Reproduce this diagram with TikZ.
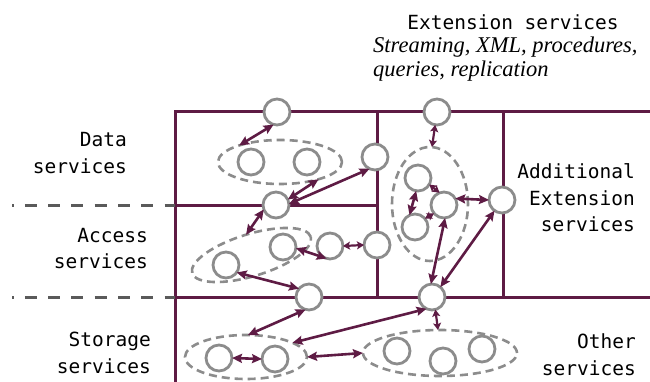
\documentclass[tikz,border=0pt]{standalone}
\usepackage{fontspec}
\newfontfamily\monof{DejaVu Sans Mono}
\newfontfamily\timesf{Liberation Serif}
\usetikzlibrary{arrows.meta,shapes.geometric}
\definecolor{cpur}{RGB}{94,27,68}
\definecolor{cgray}{RGB}{140,140,140}
\definecolor{cdgray}{RGB}{90,90,90}
\begin{document}
\begin{tikzpicture}[x=1pt,y=-1pt,
  frame/.style={draw=cpur,line width=3pt},
  circ/.style={circle,draw=cgray,line width=2.8pt,fill=white,minimum size=26pt,inner sep=0pt,outer sep=0pt},
  grp/.style={ellipse,draw=cgray,line width=2.6pt,dash pattern=on 8pt off 5pt,inner sep=0pt,outer sep=0pt},
  link/.style={draw=cpur,line width=2.6pt,{Stealth[length=10pt,width=9pt,inset=1.5pt]}-{Stealth[length=10pt,width=9pt,inset=1.5pt]}},
  slink/.style={draw=cpur,line width=2.2pt,{Stealth[length=7pt,width=8pt,inset=1.5pt]}-{Stealth[length=7pt,width=8pt,inset=1.5pt]}},
  lbl/.style={font=\monof\fontsize{19.5}{26.5}\selectfont,inner sep=0pt},
  sep/.style={draw=cdgray,line width=3pt,dash pattern=on 12pt off 11.3pt,dash phase=10.5pt}
]
\useasboundingbox (0,0) rectangle (650,382);
% frame
\draw[frame] (175,382) -- (175,112) -- (650,112);
\draw[frame] (175,297) -- (650,297);
\draw[frame] (175,205) -- (377,205);
\draw[frame] (377,112) -- (377,297);
\draw[frame] (503,112) -- (503,297);
\draw[sep] (12,205) -- (175,205);
\draw[sep] (12,297) -- (175,297);
% texts (base anchor = last line's baseline)
\node[lbl,anchor=base] (title) at (513,30) {Extension services};
\node[font=\timesf\itshape\fontsize{22.5}{24}\selectfont,align=left,anchor=base west,inner sep=0pt] (ital) at (373,77) {Streaming, XML, procedures,\\queries, replication};
\node[lbl,align=right,anchor=base east] (dlab) at (127,173.5) {Data\\services};
\node[lbl,align=right,anchor=base east] (alab) at (148,268.5) {Access\\services};
\node[lbl,align=right,anchor=base east] (slab) at (151,373) {Storage\\services};
\node[lbl,align=right,anchor=base east] (xlab) at (635,231.5) {Additional\\Extension\\services};
\node[lbl,align=right,anchor=base east] (olab) at (636,375) {Other\\services};
% groups
\node[grp,minimum width=124pt,minimum height=44pt] (dE) at (280,162) {};
\node[grp,minimum width=124pt,minimum height=42pt,rotate=17] (aE) at (251.5,255) {};
\node[grp,minimum width=76pt,minimum height=114pt] (eE) at (430,204) {};
\node[grp,minimum width=122pt,minimum height=44pt] (sLE) at (246,357) {};
\node[grp,minimum width=154pt,minimum height=46pt] (sRE) at (440,353) {};
% circles
\node[circ] (A1) at (277,112) {};
\node[circ] (dL) at (251,162) {};
\node[circ] (dR) at (307,162) {};
\node[circ] (D3) at (375,157) {};
\node[circ] (B1) at (276,205) {};
\node[circ] (aR) at (283,247) {};
\node[circ] (aL) at (226,265) {};
\node[circ] (C3) at (330,246) {};
\node[circ] (C4) at (377,245) {};
\node[circ] (S1) at (309,297) {};
\node[circ] (S2) at (432,297) {};
\node[circ] (E1) at (437,112) {};
\node[circ] (E2) at (418,178) {};
\node[circ] (E3) at (444,205) {};
\node[circ] (E4) at (415,227) {};
\node[circ] (F) at (502,200) {};
\node[circ] (sL) at (219,358) {};
\node[circ] (sR) at (275,359) {};
\node[circ] (o1) at (397,351) {};
\node[circ] (o2) at (443,361) {};
\node[circ] (o3) at (482,349) {};
% links
\draw[link] (A1.255) -- (dE.158);
\draw[link] (dE.336) -- (B1.25);
\draw[link] (D3.245) -- (B1.5);
\draw[link] (B1.200) -- (aE.88);
\draw[link] (aR.355) -- (C3.255);
\draw[slink] (C3.east) -- (C4.west);
\draw[link] (aL.325) -- (S1.140);
\draw[link] (S1.255) -- (sLE.85);
\draw[link] (S2.245) -- (sLE.17);
\draw[slink] (S2.285) -- (sRE.95);
\draw[link] (sL.east) -- (sR.west);
\draw[link] (sLE.east) -- (sRE.west);
\draw[slink] (E1.262) -- (eE.88);
\draw[slink] (E2.330) -- (E3.110);
\draw[link] (E2.262) -- (E4.115);
\draw[slink] (E3.220) -- (E4.40);
\draw[link] (E3.30) -- (F.west);
\draw[link] (E3.275) -- (S2.95);
\draw[link] (F.235) -- (S2.50);
\end{tikzpicture}
\end{document}
